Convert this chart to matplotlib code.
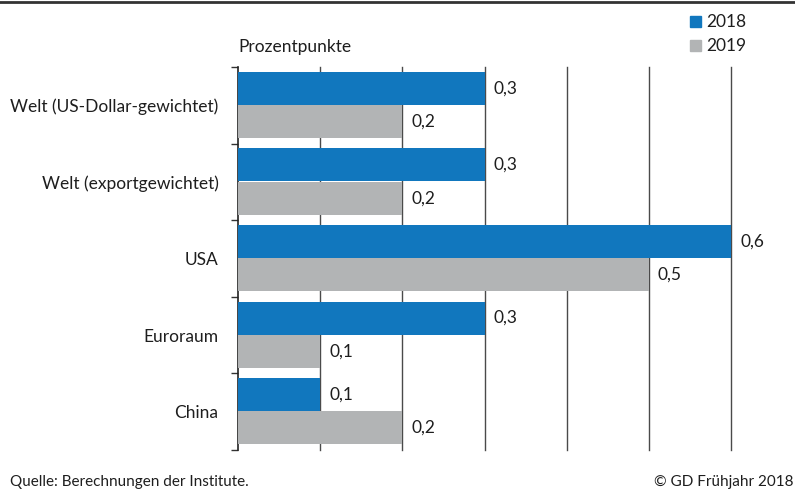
import numpy as np
import matplotlib.pyplot as plt

plt.rcParams['font.family'] = ['Lato', 'DejaVu Sans']

# data ------------------------------------------------------------
categories = ['Welt (US-Dollar-gewichtet)', 'Welt (exportgewichtet)', 'USA', 'Euroraum', 'China']
v2018 = [0.3, 0.3, 0.6, 0.3, 0.1]
v2019 = [0.2, 0.2, 0.5, 0.1, 0.2]
years = ['2018', '2019']
gridvals = [0.1, 0.2, 0.3, 0.4, 0.5, 0.6]

blue = '#1177be'
gray = '#b2b4b5'
txt = '#1e1e1e'

fig = plt.figure(figsize=(7.95, 4.9), dpi=100)
ax = fig.add_axes([0.2994, 0.0816, 0.6201, 0.7816])

y = np.arange(len(categories))
h = 0.43
ax.barh(y - 0.222, v2018, height=h, color=blue, zorder=3)
ax.barh(y + 0.212, v2019, height=h, color=gray, zorder=3)

for i in range(len(categories)):
    ax.text(v2018[i] + 0.011, y[i] - 0.222, f'{v2018[i]:.1f}'.replace('.', ','),
            va='center', ha='left', fontsize=12.5, color=txt)
    ax.text(v2019[i] + 0.011, y[i] + 0.212, f'{v2019[i]:.1f}'.replace('.', ','),
            va='center', ha='left', fontsize=12.5, color=txt)

for g in gridvals:
    ax.axvline(g, color='#4a4a4a', lw=1.0, zorder=1, clip_on=False)

ax.set_xlim(0, 0.6)
ax.set_ylim(len(categories) - 0.5, -0.5)

ax.set_xticks([])
ax.set_yticks(np.arange(len(categories) + 1) - 0.5)
ax.set_yticklabels([])
ax.set_yticks(y, minor=True)
ax.set_yticklabels(categories, minor=True, fontsize=12.5, color=txt)
ax.tick_params(axis='y', which='major', length=5, width=1, color='#333333')
ax.tick_params(axis='y', which='minor', length=0, pad=14)

for s in ['top', 'right', 'bottom']:
    ax.spines[s].set_visible(False)
ax.spines['left'].set_color('#222222')
ax.spines['left'].set_linewidth(1.2)

# header / legend / footer
fig.add_artist(plt.Line2D([0, 1], [1 - 2 / 490, 1 - 2 / 490], color='#333333', lw=2))
fig.text(238 / 795, 1 - 47 / 490, 'Prozentpunkte', fontsize=12.5, color=txt, va='center')
for k, (lab, c) in enumerate(zip(years, [blue, gray])):
    yc = 1 - (22 + k * 24) / 490
    fig.patches.append(plt.Rectangle((690 / 795, yc - 5.5 / 490), 11 / 795, 11 / 490,
                                     transform=fig.transFigure, color=c))
    fig.text(706 / 795, yc, lab, fontsize=12.5, color=txt, va='center')

fig.text(10 / 795, 1 - 482 / 490, 'Quelle: Berechnungen der Institute.', fontsize=11, color=txt, va='center')
fig.text(793 / 795, 1 - 482 / 490, '© GD Frühjahr 2018', fontsize=11, color=txt, va='center', ha='right')

fig.savefig('out.png', dpi=100)
